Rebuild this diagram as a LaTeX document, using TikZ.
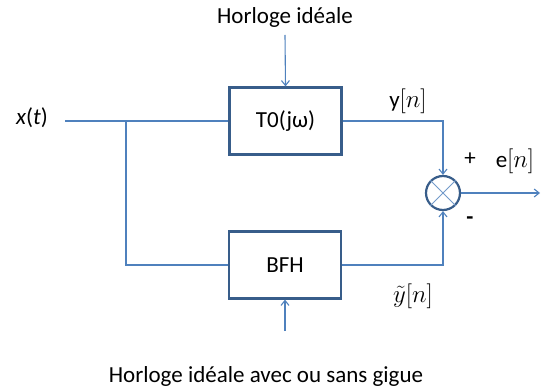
\documentclass[tikz,border=0pt]{standalone}
\usepackage{fontspec}
\setmainfont{Carlito}
\usepackage{tikz}
\usetikzlibrary{arrows.meta,positioning,calc}
\definecolor{wireblue}{HTML}{4F81BD}
\definecolor{boxblue}{HTML}{385D8A}
\definecolor{ink}{HTML}{000000}

\begin{document}
\begin{tikzpicture}[
    x=1pt, y=-1pt,
    >={Straight Barb[length=5pt,width=8pt]},
    font=\fontsize{23}{27}\selectfont,
    wire/.style={draw=wireblue, line width=1.1pt},
    flow/.style={wire, ->},
    block/.style={draw=boxblue, line width=2.2pt, fill=white, minimum width=112pt, minimum height=67pt, inner sep=0pt, text=ink},
    summer/.style={circle, draw=boxblue, line width=2.2pt, fill=white, minimum size=34pt, inner sep=0pt},
    lbl/.style={text=ink, inner sep=1pt}
]
\useasboundingbox (0,0) rectangle (554,390);

% Blocks
\node[block] (t0) at (285.5,121) {T0(j\textup{ω})};
\node[block] (bfh) at (285,265) {BFH};
\node[summer] (sum) at (443,193) {};
\draw[draw=wireblue!80, line width=0.9pt] (sum.north west) -- (sum.south east);
\draw[draw=wireblue!80, line width=0.9pt] (sum.north east) -- (sum.south west);

% Labels
\node[lbl] (xin) at (32,118) {\textit{x}(\textit{t})};
\node[lbl] (clkA) at (285,17) {Horloge idéale};
\node[lbl] (clkB) at (266,376) {Horloge idéale avec ou sans gigue};
\node[lbl] (yout) at (408,101) {y$[n]$};
\node[lbl] (ytil) at (413,296) {$\tilde{y}[n]$};
\node[lbl] (eout) at (515,161) {e$[n]$};
\node[lbl] (plus) at (470,159) {+};
\node[lbl] (minus) at (470,221) {\textbf{-}};

% Coordinates
\coordinate (start) at (65,121);
\coordinate (branch) at (126,121);
\coordinate (cornerT) at (443,121);
\coordinate (cornerB) at (443,265);
\coordinate (eend) at (540,193);
\coordinate (clkAend) at (285,35);
\coordinate (clkBend) at (285,331);

% Connections
\draw[wire] (start) -- (t0.west);
\draw[wire] (branch) |- (bfh.west);
\draw[flow] (t0.east) -- (cornerT) -- (sum.north);
\draw[flow] (bfh.east) -- (cornerB) -- (sum.south);
\draw[flow] (sum.east) -- (eend);
\draw[flow] (clkAend) -- (t0.north);
\draw[flow] (clkBend) -- (bfh.south);

\end{tikzpicture}
\end{document}
